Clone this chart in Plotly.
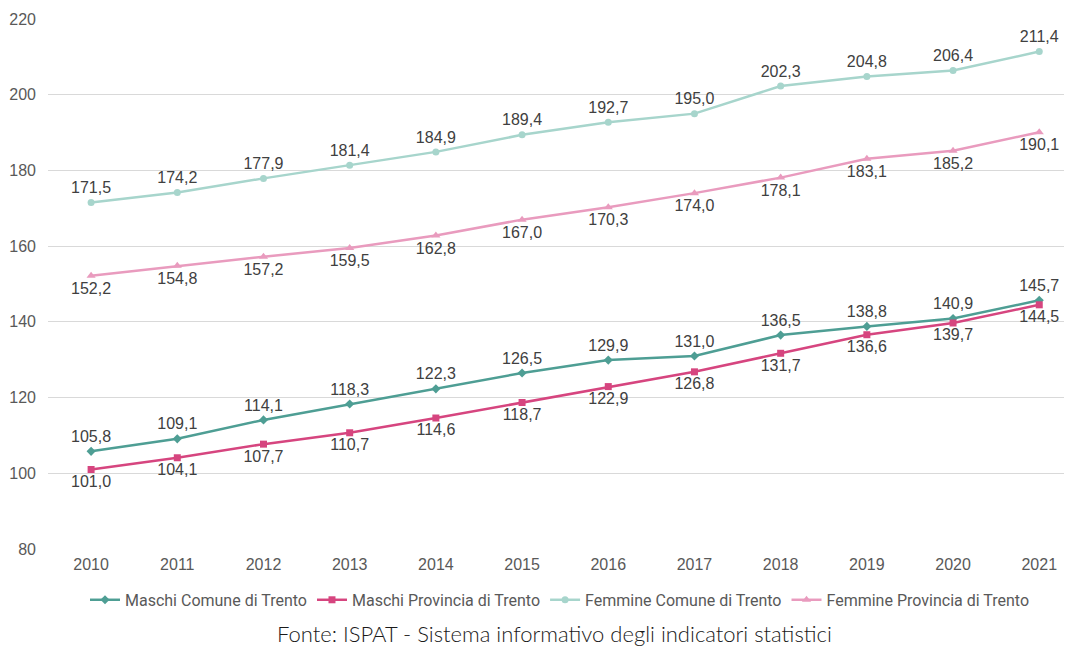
import plotly.graph_objects as go

years = [2010, 2011, 2012, 2013, 2014, 2015, 2016, 2017, 2018, 2019, 2020, 2021]
maschi_comune = [105.8, 109.1, 114.1, 118.3, 122.3, 126.5, 129.9, 131.0, 136.5, 138.8, 140.9, 145.7]
maschi_provincia = [101.0, 104.1, 107.7, 110.7, 114.6, 118.7, 122.9, 126.8, 131.7, 136.6, 139.7, 144.5]
femmine_comune = [171.5, 174.2, 177.9, 181.4, 184.9, 189.4, 192.7, 195.0, 202.3, 204.8, 206.4, 211.4]
femmine_provincia = [152.2, 154.8, 157.2, 159.5, 162.8, 167.0, 170.3, 174.0, 178.1, 183.1, 185.2, 190.1]

series = [
    ("Maschi Comune di Trento", maschi_comune, "#4E9E94", "diamond", 7, "top center"),
    ("Maschi Provincia di Trento", maschi_provincia, "#D6457F", "square", 7, "bottom center"),
    ("Femmine Comune di Trento", femmine_comune, "#A7D5CC", "circle", 7, "top center"),
    ("Femmine Provincia di Trento", femmine_provincia, "#E99BBE", "triangle-up", 8, "bottom center"),
]

fig = go.Figure()
for name, vals, color, sym, size, tpos in series:
    fig.add_trace(go.Scatter(
        x=years, y=vals, name=name, mode="lines+markers+text",
        line=dict(color=color, width=2.5),
        marker=dict(symbol=sym, size=size, color=color),
        texttemplate="%{y:.1f}", textposition=tpos,
        textfont=dict(family="Liberation Sans, Arial", size=16, color="#404040"),
        cliponaxis=False,
    ))

fig.update_layout(
    width=1064, height=639,
    margin=dict(l=40, r=0, t=11, b=98),
    paper_bgcolor="white", plot_bgcolor="white",
    separators=",.",
    showlegend=True,
    legend=dict(orientation="h", x=0.5, xanchor="center", y=-0.096, yanchor="middle",
                font=dict(family="Roboto, Liberation Sans", size=16, color="#595959"),
                itemwidth=30, tracegroupgap=0),
    xaxis=dict(range=[2009.5, 2021.38], tickmode="array", tickvals=years,
               ticktext=[str(y) for y in years], showgrid=False, zeroline=False,
               showline=False, ticks="", ticklabelstandoff=4,
               tickfont=dict(family="Liberation Sans, Arial", size=16, color="#595959")),
    yaxis=dict(range=[80, 220], dtick=20, showgrid=True, gridcolor="#D9D9D9", gridwidth=1,
               zeroline=False, showline=False, ticks="", ticklabelstandoff=11,
               tickfont=dict(family="Liberation Sans, Arial", size=16, color="#595959")),
    annotations=[dict(text="Fonte: ISPAT - Sistema informativo degli indicatori statistici",
                      xref="paper", yref="paper", x=0.495, y=-0.159, xanchor="center", yanchor="middle",
                      showarrow=False,
                      font=dict(family="Lato, Open Sans", size=22, weight=300, color="#1a1a1a"))],
)

fig.write_html("out.html")
